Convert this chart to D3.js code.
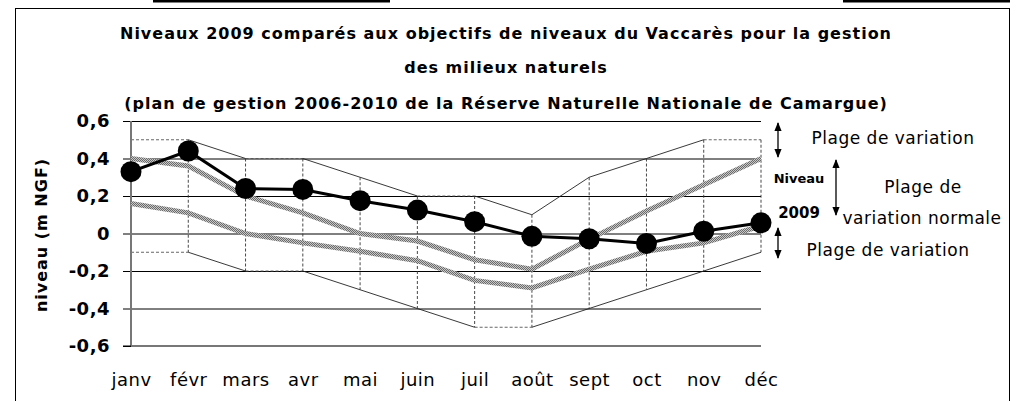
<!DOCTYPE html>
<html>
<head>
<meta charset="utf-8">
<script src="https://cdn.jsdelivr.net/npm/d3@7"></script>
<style>
  body { margin: 0; background: #fff; }
  svg text { font-family: "Comic Sans MS", "DejaVu Sans", sans-serif; fill: #000; }
</style>
</head>
<body>
<svg id="canvas" width="1018" height="401"></svg>
<script>
const mois = ["janv", "févr", "mars", "avr", "mai", "juin", "juil", "août", "sept", "oct", "nov", "déc"];
const niveau2009 = [0.33, 0.44, 0.24, 0.235, 0.175, 0.125, 0.063, -0.015, -0.028, -0.053, 0.012, 0.057];
const normaleHaut = [0.40, 0.36, 0.20, 0.11, 0.0, -0.04, -0.14, -0.19, -0.03, 0.12, 0.26, 0.40];
const normaleBas = [0.16, 0.11, 0.0, -0.05, -0.095, -0.145, -0.25, -0.29, -0.19, -0.095, -0.05, 0.04];
const plageHaut = [0.5, 0.5, 0.4, 0.4, 0.3, 0.2, 0.2, 0.1, 0.3, 0.4, 0.5, 0.5];
const plageBas = [-0.1, -0.1, -0.2, -0.2, -0.3, -0.4, -0.5, -0.5, -0.4, -0.3, -0.2, -0.1];
const yTicks = [-0.6, -0.4, -0.2, 0, 0.2, 0.4, 0.6];

const titre = [
  "Niveaux 2009 comparés aux objectifs de niveaux du Vaccarès pour la gestion",
  "des milieux naturels",
  "(plan de gestion 2006-2010 de la Réserve Naturelle Nationale de Camargue)"
];

const svg = d3.select("#canvas");

const gauche = 131, droite = 761, haut = 121, bas = 346;

const x = d3.scalePoint().domain(mois).range([gauche, droite]);
const y = d3.scaleLinear().domain([-0.6, 0.6]).range([bas, haut]);

// cadre + restes du cadre du dessus
svg.append("rect")
  .attr("x", 15.5).attr("y", 8.5).attr("width", 994).attr("height", 420)
  .attr("fill", "none").attr("stroke", "#000").attr("stroke-width", 1);
svg.append("line").attr("x1", 153).attr("x2", 390).attr("y1", 1).attr("y2", 1)
  .attr("stroke", "#000").attr("stroke-width", 3);
svg.append("line").attr("x1", 843).attr("x2", 1010).attr("y1", 1).attr("y2", 1)
  .attr("stroke", "#000").attr("stroke-width", 3);

// motif pour les lignes grises
const defs = svg.append("defs");
const pat = defs.append("pattern")
  .attr("id", "damier").attr("patternUnits", "userSpaceOnUse")
  .attr("width", 2).attr("height", 2);
pat.append("rect").attr("width", 2).attr("height", 2).attr("fill", "#c8c8c8");
pat.append("rect").attr("width", 1).attr("height", 1).attr("fill", "#6a6a6a");
pat.append("rect").attr("x", 1).attr("y", 1).attr("width", 1).attr("height", 1).attr("fill", "#6a6a6a");

defs.append("marker")
  .attr("id", "fleche").attr("viewBox", "0 0 10 10")
  .attr("refX", 9).attr("refY", 5)
  .attr("markerWidth", 7).attr("markerHeight", 7)
  .attr("orient", "auto-start-reverse")
  .append("path").attr("d", "M0,1 L10,5 L0,9 Z").attr("fill", "#000");

// Titre
svg.selectAll("text.titre")
  .data(titre)
  .join("text")
  .attr("class", "titre")
  .attr("x", 506)
  .attr("y", (d, i) => [39, 73, 109][i])
  .attr("text-anchor", "middle")
  .attr("font-weight", "bold")
  .attr("font-size", 16)
  .attr("letter-spacing", 1)
  .text(d => d);

// Grille
svg.append("g")
  .attr("transform", `translate(${droite},0)`)
  .call(d3.axisLeft(y).tickValues(yTicks).tickSize(droite - 123).tickFormat(""))
  .call(g => g.select(".domain").remove())
  .call(g => g.selectAll("line").attr("stroke", "#000").attr("stroke-width", 1));

// Étiquettes Y
svg.append("g")
  .attr("transform", `translate(${gauche},0)`)
  .call(d3.axisLeft(y).tickValues(yTicks).tickSize(0).tickPadding(21)
    .tickFormat(d => d === 0 ? "0" : d.toFixed(1).replace(".", ",")))
  .call(g => g.select(".domain").remove())
  .call(g => g.selectAll("text")
    .attr("font-size", 18).attr("font-weight", "bold")
    .attr("letter-spacing", 0.5)
    .attr("font-family", "'Comic Sans MS', 'DejaVu Sans', sans-serif"));

// Étiquettes X
svg.append("g")
  .attr("transform", `translate(0,${bas})`)
  .call(d3.axisBottom(x).tickSize(0).tickPadding(27))
  .call(g => g.select(".domain").remove())
  .call(g => g.selectAll("text")
    .attr("font-size", 18)
    .attr("letter-spacing", 0.5)
    .attr("font-family", "'Comic Sans MS', 'DejaVu Sans', sans-serif"));

// Plage de variation (enveloppe)
const segs = [];
for (let i = 0; i < mois.length - 1; i++) {
  segs.push({ a: mois[i], b: mois[i + 1], va: plageHaut[i], vb: plageHaut[i + 1] });
  segs.push({ a: mois[i], b: mois[i + 1], va: plageBas[i], vb: plageBas[i + 1] });
}
svg.append("g").selectAll("line")
  .data(segs)
  .join("line")
  .attr("x1", d => x(d.a)).attr("y1", d => y(d.va))
  .attr("x2", d => x(d.b)).attr("y2", d => y(d.vb))
  .attr("stroke", d => d.va === d.vb ? "#555" : "#222")
  .attr("stroke-width", 0.9)
  .attr("stroke-dasharray", d => d.va === d.vb ? "3,2" : null);

svg.append("g").selectAll("line")
  .data(mois)
  .join("line")
  .attr("x1", d => x(d)).attr("x2", d => x(d))
  .attr("y1", (d, i) => y(plageHaut[i]))
  .attr("y2", (d, i) => y(plageBas[i]))
  .attr("stroke", "#333")
  .attr("stroke-width", 0.9)
  .attr("stroke-dasharray", "3,2");

// Axes gris
svg.append("line").attr("x1", gauche).attr("x2", gauche).attr("y1", haut).attr("y2", bas)
  .attr("stroke", "#777").attr("stroke-width", 2);
svg.append("line").attr("x1", gauche).attr("x2", droite).attr("y1", bas).attr("y2", bas)
  .attr("stroke", "#777").attr("stroke-width", 2);
svg.append("line").attr("x1", 123).attr("x2", gauche).attr("y1", bas).attr("y2", bas)
  .attr("stroke", "#000").attr("stroke-width", 1);

// Plage de variation normale
const ligne = d3.line().x((d, i) => x(mois[i])).y(d => y(d));
[normaleHaut, normaleBas].forEach(serie => {
  svg.append("path")
    .attr("d", ligne(serie))
    .attr("fill", "none")
    .attr("stroke", "url(#damier)")
    .attr("stroke-width", 5);
});

// Niveau 2009
svg.append("path")
  .attr("d", ligne(niveau2009))
  .attr("fill", "none")
  .attr("stroke", "#000")
  .attr("stroke-width", 3);

svg.append("g").selectAll("circle")
  .data(niveau2009)
  .join("circle")
  .attr("cx", (d, i) => x(mois[i]))
  .attr("cy", d => y(d))
  .attr("r", 10.5)
  .attr("fill", "#000");

// Titre axe Y
svg.append("text")
  .attr("transform", "translate(47,235) rotate(-90)")
  .attr("text-anchor", "middle")
  .attr("font-weight", "bold")
  .attr("font-size", 16)
  .attr("letter-spacing", 1)
  .text("niveau (m NGF)");

// Légende à droite
const fleches = [
  { x: 778, y1: 123, y2: 157 },
  { x: 836, y1: 160, y2: 215 },
  { x: 778, y1: 228, y2: 258 }
];
svg.append("g").selectAll("line")
  .data(fleches)
  .join("line")
  .attr("x1", d => d.x).attr("x2", d => d.x)
  .attr("y1", d => d.y1).attr("y2", d => d.y2)
  .attr("stroke", "#000").attr("stroke-width", 1.3)
  .attr("marker-start", "url(#fleche)")
  .attr("marker-end", "url(#fleche)");

const legende = [
  { t: "Plage de variation", x: 893, y: 144, s: 17, w: "normal" },
  { t: "Niveau", x: 799, y: 183, s: 13, w: "bold" },
  { t: "2009", x: 799, y: 218, s: 15, w: "bold" },
  { t: "Plage de", x: 923, y: 193, s: 17, w: "normal" },
  { t: "variation normale", x: 922, y: 224, s: 17, w: "normal" },
  { t: "Plage de variation", x: 888, y: 256, s: 17, w: "normal" }
];
svg.append("g").selectAll("text")
  .data(legende)
  .join("text")
  .attr("x", d => d.x).attr("y", d => d.y)
  .attr("text-anchor", "middle")
  .attr("font-size", d => d.s)
  .attr("font-weight", d => d.w)
  .attr("letter-spacing", d => d.w === "normal" ? 0.5 : 0)
  .text(d => d.t);
</script>
</body>
</html>
